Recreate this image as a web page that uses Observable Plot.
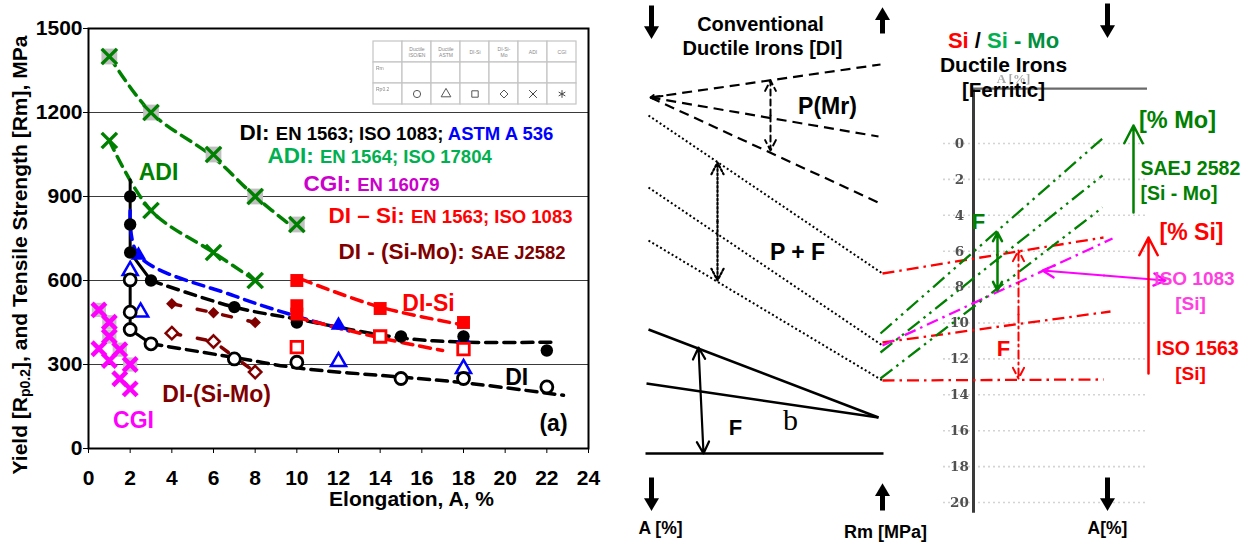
<!DOCTYPE html>
<html><head><meta charset="utf-8">
<script src="https://cdn.jsdelivr.net/npm/d3@7"></script>
<script src="https://cdn.jsdelivr.net/npm/@observablehq/plot@0.6"></script>
<style>
body{margin:0;background:#fff;}
#wrap{position:relative;width:1255px;height:544px;overflow:hidden;background:#fff;font-family:"Liberation Sans",Arial,sans-serif;}
#wrap svg{overflow:visible;}
#wrap text{white-space:pre;}
#ylab{position:absolute;left:-210px;top:243px;width:460px;height:24px;line-height:24px;text-align:center;white-space:nowrap;font-size:21px;font-weight:bold;color:#000;transform:rotate(-90deg);transform-origin:50% 50%;}
#ylab sub{font-size:14px;vertical-align:-3px;line-height:0;}
</style></head><body><div id="wrap"></div>
<script>
// ---------- LEFT CHART DATA: [elongation A %, strength MPa] ----------
const xTicks = [0,2,4,6,8,10,12,14,16,18,20,22,24];
const yTicks = [0,300,600,900,1200,1500];
const gridY = [300,600,900,1200];

const adiRm = [[1,1400],[3,1200],[6,1050],[8,900],[10,800]];
const adiRmTrend = [[1,1400],[3,1200],[6,1040],[8,900],[10,780]];
const adiRp = [[1,1100],[3,850],[6,700],[8,600]];

const diRm = [[2,900],[2,800],[2,700],[3,600],[7,505],[10,450],[15,400],[18,400],[22,350]];
const diRmSolid = [[2,960],[2,700],[3,600]];
const diRmTrend = [[3,600],[7,505],[10,462],[15,395],[18,380],[22.5,380]];
const diRp = [[2,602],[2,487],[2,425],[3,374],[7,320],[10,308],[15,250],[18,250],[22,220]];
const diRpSolid = [[2,602],[2,425],[3,374]];
const diRpTrend = [[3,374],[7,325],[10,288],[15,255],[18,235],[22.8,190]];

const astmRm = [[2.4,690],[12,440],[18,390]];
const astmRp = [[2,635],[2.5,487],[12,310],[18,285]];
const astmTrend = [[2,850],[2.4,690],[7,545],[10,472],[12.5,420]];

const siRm = [[10,600],[10,510],[10,480],[14,500],[18,450]];
const siRp = [[10,362],[14,400],[18,355]];
const siRmTrend = [[10.2,605],[14,505],[18.3,437]];
const siRpTrend = [[10,468],[14,395],[17,350]];

const simoRm = [[4,517],[6,485],[8,450]];
const simoRp = [[4,412],[6,382],[8,273]];

const cgiRm = [[0.5,495],[1,451],[1,400],[1.5,353],[2,300]];
const cgiRp = [[0.5,356],[1,314],[1.5,249],[2,213]];

// annotations (x in A %, y in MPa)
const headers = [
  {x:7.25, y:1129, parts:[["DI: ","#000",22.5],["EN 1563; ISO 1083; ","#000",18.5],["ASTM A 536","#0000ff",18.5]]},
  {x:8.59, y:1046, parts:[["ADI: ","#00b050",22.5],["EN 1564; ISO 17804","#00b050",18.5]]},
  {x:10.32, y:946, parts:[["CGI: ","#cc00cc",22.5],["EN 16079","#cc00cc",18.5]]},
  {x:11.52, y:832, parts:[["DI \u2013 Si: ","#ff0000",22.5],["EN 1563; ISO 1083","#ff0000",18.5]]},
  {x:12.0, y:704, parts:[["DI - (Si-Mo): ","#800000",22.5],["SAE J2582","#800000",18.5]]}
];
const seriesLabels = [
  {x:3.36, y:986, t:"ADI", c:"#008000"},
  {x:6.15, y:193, t:"DI-(Si-Mo)", c:"#800000"},
  {x:2.16, y:100, t:"CGI", c:"#ff00ff"},
  {x:16.32, y:518, t:"DI-Si", c:"#ff0000"},
  {x:20.55, y:254, t:"DI", c:"#000"},
  {x:22.32, y:89, t:"(a)", c:"#000"}
];

// legend table
const legCols = ["lab","isoen","astm","si","simo","adi","cgi"];
const legHead = ["", "Ductile\nISO/EN", "Ductile\nASTM", "DI-Si", "DI-Si-\nMo", "ADI", "CGI"];
const legRows = ["head","rm","rp"];
const legRowLab = ["", "Rm", "Rp0.2"];

// ---------- RIGHT SCHEMATIC DATA (panel units) ----------
const schemDashed = [[30,97,260,64],[30,97,258,136],[30,97,260,203]];
const schemDotted = [[28,115,262,273],[28,187,262,345],[28,240,262,380]];
const schemSolid = [[28,329,258,417],[26,383,258,417],[25,453,263,453]];
const siLines = [[262,273,483,237],[262,342,490,311],[262,380,483,379]];
const moLines = [[260,333,482,138],[260,352,482,175],[260,378,482,207]];
const iso1083Line = [[262,345,492,238]];
const bigArrows = [
  {x:31,y1:5,y2:38},{x:262,y1:33,y2:7},{x:487,y1:3,y2:37},
  {x:31,y1:477,y2:510},{x:262,y1:510,y2:483},{x:487,y1:477,y2:510}
];
const dblArrows = [
  {x1:150,y1:80,x2:150,y2:150,stroke:"#000",dash:"6,4",w:2},
  {x1:97,y1:162,x2:97,y2:280,stroke:"#000",dash:"2,2.2",w:2.2},
  {x1:78,y1:347,x2:83,y2:453,stroke:"#000",dash:null,w:2.2},
  {x1:377,y1:232,x2:377,y2:290,stroke:"#008000",dash:null,w:2.5},
  {x1:398,y1:250,x2:398,y2:378,stroke:"#ff0000",dash:"8,4,2,4",w:2},
  {x1:422,y1:270,x2:545,y2:280,stroke:"#ff00ff",dash:null,w:2.2}
];
const upArrows = [
  {x:513,y1:212,y2:125,stroke:"#008000"},
  {x:528,y1:373,y2:237,stroke:"#ff0000"}
];
const schemTexts = [
  {x:140,y:24,t:"Conventional",s:20,c:"#000"},
  {x:142,y:48,t:"Ductile Irons [DI]",s:20,c:"#000"},
  {x:207,y:106,t:"P(Mr)",s:23,c:"#000"},
  {x:177,y:252,t:"P + F",s:23,c:"#000"},
  {x:115,y:427,t:"F",s:22,c:"#000"},
  {x:40,y:528,t:"A [%]",s:17.5,c:"#000"},
  {x:265,y:532,t:"Rm [MPa]",s:18,c:"#000"},
  {x:383,y:65,t:"Ductile Irons",s:21,c:"#000"},
  {x:383,y:90,t:"[Ferritic]",s:20.5,c:"#000"},
  {x:557,y:120,t:"[% Mo]",s:23.5,c:"#008000"},
  {x:571,y:232,t:"[% Si]",s:23,c:"#ff0000"},
  {x:358,y:221,t:"F",s:22,c:"#008000"},
  {x:574,y:278,t:"ISO 1083",s:19,c:"#ff40e0"},
  {x:570,y:303,t:"[Si]",s:19,c:"#ff40e0"},
  {x:577,y:348,t:"ISO 1563",s:19.5,c:"#ff0000"},
  {x:570,y:373,t:"[Si]",s:19,c:"#ff0000"},
  {x:383,y:348,t:"F",s:22,c:"#ff0000"},
  {x:487,y:528,t:"A[%]",s:17.5,c:"#000"}
];
const schemTextsStart = [
  {x:520,y:168,t:"SAEJ 2582",s:19.5,c:"#008000"},
  {x:520,y:193,t:"[Si - Mo]",s:19.5,c:"#008000"}
];
const titleRight = [{x:383,y:40,parts:[["Si","#ff0000",22],[" / ","#000",22],["Si","#00b050",22],[" - Mo","#009040",22]]}];
const aTicks = [0,2,4,6,8,10,12,14,16,18,20];

// ---------- helpers ----------
const FONT = "Liberation Sans, Arial, sans-serif";
const wrap = document.getElementById("wrap");
function place(node, left, top){
  const d = document.createElement("div");
  d.style.position = "absolute"; d.style.left = left+"px"; d.style.top = top+"px";
  d.appendChild(node); wrap.appendChild(d); return d;
}
function richify(svg, label, items){
  d3.select(svg).selectAll(`text[aria-label="${label}"]`).each(function(_, i){
    const t = d3.select(this); t.text(null);
    items[i].parts.forEach(p => t.append("tspan").attr("fill", p[1]).attr("font-size", p[2]).text(p[0]));
  });
}
const X = d => d[0], Y = d => d[1];
const GREEN = "#008000", BLUE = "#0000ff", RED = "#ff0000", DRED = "#800000", MAG = "#ff00ff";
const trend = (data, stroke, o = {}) => Plot.line(data, {x:X, y:Y, stroke, strokeWidth:3.5, strokeDasharray:"11,7", curve:"catmull-rom", ...o});

// ---------- LEFT PLOT ----------
const left = Plot.plot({
  width:620, height:544, marginLeft:88, marginRight:32, marginTop:28, marginBottom:96,
  style:{fontFamily:FONT, fontSize:"21px", fontWeight:"bold", color:"#000", background:"transparent", overflow:"visible"},
  x:{domain:[0,24], ticks:xTicks, tickSize:5, tickPadding:17, tickFormat:d3.format("d"), label:null},
  y:{domain:[0,1500], ticks:yTicks, tickSize:5, tickPadding:1, tickFormat:d3.format("d"), label:null},
  marks:[
    Plot.ruleY(gridY, {stroke:"#3a3a3a", strokeWidth:1.2}),
    Plot.frame({stroke:"#000", strokeWidth:2}),
    trend(adiRmTrend, GREEN),
    trend(adiRp, GREEN),
    Plot.line(diRmSolid, {x:X, y:Y, stroke:"#000", strokeWidth:3}),
    trend(diRmTrend, "#000"),
    Plot.line(diRpSolid, {x:X, y:Y, stroke:"#000", strokeWidth:3}),
    trend(diRpTrend, "#000"),
    trend(astmTrend, BLUE),
    trend(siRmTrend, RED),
    trend(siRpTrend, RED),
    trend(simoRm, DRED, {strokeDasharray:"9,17", curve:"linear"}),
    trend(simoRp, DRED, {strokeDasharray:"9,17", curve:"linear"}),
    Plot.dot(adiRm, {x:X, y:Y, symbol:"square", r:8.9, fill:"#c0c0c0"}),
    Plot.dot(adiRm, {x:X, y:Y, symbol:"times", r:7, stroke:GREEN, strokeWidth:3.5}),
    Plot.dot(adiRp, {x:X, y:Y, symbol:"times", r:7, stroke:GREEN, strokeWidth:3.5}),
    Plot.dot(cgiRm, {x:X, y:Y, symbol:"square", r:8, fill:"#c4c4c4"}),
    Plot.dot(cgiRm, {x:X, y:Y, symbol:"times", r:6.3, stroke:MAG, strokeWidth:4.5}),
    Plot.dot(cgiRp, {x:X, y:Y, symbol:"times", r:6.3, stroke:MAG, strokeWidth:4.5}),
    Plot.dot(astmRm, {x:X, y:Y, symbol:"triangle", r:5.8, fill:BLUE}),
    Plot.dot(diRm, {x:X, y:Y, symbol:"circle", r:6.2, fill:"#000"}),
    Plot.dot(astmRp, {x:X, y:Y, symbol:"triangle", r:5.6, fill:"#fff", stroke:BLUE, strokeWidth:2.5}),
    Plot.dot(diRp, {x:X, y:Y, symbol:"circle", r:6, fill:"#fff", stroke:"#000", strokeWidth:2.8}),
    Plot.dot(siRm, {x:X, y:Y, symbol:"square", r:7.3, fill:RED}),
    Plot.dot(siRp, {x:X, y:Y, symbol:"square", r:6.5, fill:"#fff", stroke:RED, strokeWidth:2.8}),
    Plot.dot(simoRm, {x:X, y:Y, symbol:"diamond2", r:5.2, fill:DRED}),
    Plot.dot(simoRp, {x:X, y:Y, symbol:"diamond2", r:5.6, fill:"#fff", stroke:DRED, strokeWidth:2.5}),
    Plot.text(headers, {x:"x", y:"y", text:d => d.parts.map(p => p[0]).join(""), textAnchor:"start", fontSize:22.5, fontWeight:"bold", ariaLabel:() => "hdr"}),
    Plot.text(seriesLabels, {x:"x", y:"y", text:"t", fill:"c", fontSize:23, fontWeight:"bold"}),
    Plot.text(["Elongation, A, %"], {frameAnchor:"bottom", dx:73, dy:57, fontSize:21, fontWeight:"bold"})
  ]
});
richify(left, "hdr", headers);
place(left, 0, 0);
const ylab = document.createElement("div");
ylab.id = "ylab";
ylab.innerHTML = "Yield [R<sub>p0.2</sub>], and Tensile Strength [Rm], MPa";
wrap.appendChild(ylab);

// ---------- LEGEND TABLE ----------
const legCells = legRows.flatMap(r => legCols.map(c => ({r, c})));
const legHeadText = legCols.map((c, i) => ({c, r:"head", t:legHead[i]}));
const legRowText = legRows.map((r, i) => ({c:"lab", r, t:legRowLab[i]}));
const legSyms = [
  {c:"isoen", r:"rm", s:"circle", f:"#222", k:null}, {c:"astm", r:"rm", s:"triangle", f:"#222", k:null},
  {c:"si", r:"rm", s:"square", f:"#222", k:null}, {c:"simo", r:"rm", s:"diamond2", f:"#222", k:null},
  {c:"adi", r:"rm", s:"square", f:"#999", k:null}, {c:"cgi", r:"rm", s:"square", f:"#999", k:null},
  {c:"isoen", r:"rp", s:"circle", f:"none", k:"#555"}, {c:"astm", r:"rp", s:"triangle", f:"none", k:"#555"},
  {c:"si", r:"rp", s:"square", f:"none", k:"#555"}, {c:"simo", r:"rp", s:"diamond2", f:"none", k:"#555"},
  {c:"adi", r:"rp", s:"times", f:"none", k:"#444"}, {c:"cgi", r:"rp", s:"asterisk", f:"none", k:"#444"}
];
const legend = Plot.plot({
  width:205, height:65, margin:0,
  style:{fontFamily:FONT, background:"transparent", overflow:"visible"},
  x:{domain:legCols, padding:0, axis:null},
  y:{domain:legRows, padding:0, axis:null},
  symbol:{type:"identity"},
  marks:[
    Plot.cell(legCells, {x:"c", y:"r", fill:"#fff", stroke:"#c4c4c4", strokeWidth:1.2}),
    Plot.text(legHeadText, {x:"c", y:"r", text:"t", fontSize:5, fill:"#888", lineHeight:1.2}),
    Plot.text(legRowText, {x:"c", y:"r", text:"t", fontSize:5, fill:"#888", textAnchor:"start", dx:-12, dy:-5}),
    Plot.dot(legSyms, {x:"c", y:"r", symbol:"s", fill:"f", stroke:"k", r:3.6, strokeWidth:1})
  ]
});
const legDiv = place(legend, 372, 40);
legDiv.style.filter = "blur(0.35px)";

// ---------- RIGHT: A-axis overlay ----------
const aAxis = Plot.plot({
  width:635, height:544, margin:0,
  style:{background:"transparent", overflow:"visible"},
  x:{domain:[0,635], range:[0,635], axis:null},
  y:{domain:[-143/17.95, 401/17.95], range:[0,544], axis:null},
  marks:[
    Plot.ruleY(aTicks, {x1:323, x2:527, stroke:"#d4d4d4", strokeWidth:1.6, strokeDasharray:"2,3"}),
    Plot.ruleX([353], {y1:-3.06, y2:20.6, stroke:"#3a3a3a", strokeWidth:3}),
    Plot.ruleY([-3.06], {x1:353, x2:527, stroke:"#6a6a6a", strokeWidth:2.2}),
    Plot.text(["A [%]"], {x:393, y:-3.6, fontFamily:"Liberation Serif, serif", fontWeight:"bold", fontSize:13, fill:"#aaa"}),
    Plot.text(aTicks, {x:339, y:d => d, text:d => String(d), fontFamily:"DejaVu Serif, serif", fontWeight:"bold", fontSize:13.5, fill:"#505050", letterSpacing:"1.5px"})
  ]
});
const axDiv = place(aAxis, 620, 0);
axDiv.style.filter = "blur(0.3px)";

// ---------- RIGHT: schematic ----------
const seg = a => a.map(([x1,y1,x2,y2]) => ({x1,y1,x2,y2}));
const triDown = {draw(ctx, size){ const r = Math.sqrt(size/Math.PI); ctx.moveTo(-r,-r*0.85); ctx.lineTo(r,-r*0.85); ctx.lineTo(0,r*0.85); ctx.closePath(); }};
const triUp = {draw(ctx, size){ const r = Math.sqrt(size/Math.PI); ctx.moveTo(-r,r*0.85); ctx.lineTo(r,r*0.85); ctx.lineTo(0,-r*0.85); ctx.closePath(); }};
const link = (data, o) => Plot.link(seg(data), {x1:"x1", y1:"y1", x2:"x2", y2:"y2", ...o});
const dblMarks = dblArrows.flatMap(d => {
  const mx = (d.x1 + d.x2)/2, my = (d.y1 + d.y2)/2;
  const o = {stroke:d.stroke, strokeWidth:d.w, headLength:9, headAngle:55};
  if (d.dash) o.strokeDasharray = d.dash;
  return [
    Plot.arrow([d], {x1:() => mx, y1:() => my, x2:"x1", y2:"y1", ...o}),
    Plot.arrow([d], {x1:() => mx, y1:() => my, x2:"x2", y2:"y2", ...o})
  ];
});
const schem = Plot.plot({
  width:635, height:544, margin:0,
  style:{fontFamily:FONT, background:"transparent", overflow:"visible"},
  x:{domain:[0,635], range:[0,635], axis:null},
  y:{domain:[0,544], range:[0,544], axis:null},
  symbol:{type:"identity"},
  marks:[
    link(schemDashed, {stroke:"#000", strokeWidth:2.2, strokeDasharray:"10,6"}),
    Plot.arrow([{a:1}], {x1:() => 42, y1:() => 95.5, x2:() => 30, y2:() => 97, stroke:"#000", strokeWidth:2, headLength:7}),
    link(schemDotted, {stroke:"#000", strokeWidth:2, strokeDasharray:"2,2.5"}),
    link(schemSolid, {stroke:"#000", strokeWidth:2.5}),
    link(siLines, {stroke:RED, strokeWidth:2.3, strokeDasharray:"12,5,2.5,5"}),
    link(iso1083Line, {stroke:MAG, strokeWidth:2.3, strokeDasharray:"12,5,2.5,5"}),
    link(moLines, {stroke:GREEN, strokeWidth:2.3, strokeDasharray:"15,5,2.5,5,2.5,5"}),
    ...dblMarks,
    Plot.arrow(upArrows, {x1:"x", y1:"y1", x2:"x", y2:"y2", stroke:"stroke", strokeWidth:2.5, headLength:12, headAngle:55}),
    Plot.link(bigArrows, {x1:"x", x2:"x", y1:"y1", y2:d => d.y2 > d.y1 ? d.y2 - 8 : d.y2 + 8, stroke:"#000", strokeWidth:5}),
    Plot.dot(bigArrows, {x:"x", y:d => d.y2 > d.y1 ? d.y2 - 6 : d.y2 + 6, symbol:d => d.y2 > d.y1 ? triDown : triUp, r:7.5, fill:"#000"}),
    Plot.text(schemTexts, {x:"x", y:"y", text:"t", fontSize:"s", fill:"c", fontWeight:"bold"}),
    Plot.text(schemTextsStart, {x:"x", y:"y", text:"t", fontSize:"s", fill:"c", fontWeight:"bold", textAnchor:"start"}),
    Plot.text(["b"], {x:() => 170, y:() => 420, fontFamily:"Liberation Serif, serif", fontSize:30, fill:"#000"}),
    Plot.text(titleRight, {x:"x", y:"y", text:d => d.parts.map(p => p[0]).join(""), fontSize:22, fontWeight:"bold", ariaLabel:() => "ttl"})
  ]
});
richify(schem, "ttl", titleRight);
place(schem, 620, 0);
</script></body></html>
